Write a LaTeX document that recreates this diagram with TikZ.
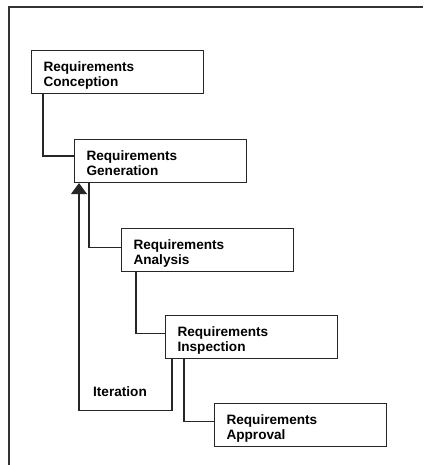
\documentclass[tikz,border=0pt]{standalone}
\usepackage{fontspec}
\setmainfont{Liberation Sans}
\usetikzlibrary{arrows.meta}
\begin{document}
\begin{tikzpicture}[x=1pt,y=-1pt,
  lbl/.style={font=\fontsize{13.6}{15}\selectfont\bfseries},
  stagebox/.style={draw=black!85,line width=1.1pt,rectangle,anchor=north west,
    minimum width=172pt,minimum height=43pt,inner xsep=12pt,inner ysep=0pt,
    text width=148pt,align=left,text height=15.5pt,text depth=17.5pt,lbl},
  link/.style={draw=black!85,line width=1.1pt},
  frame/.style={draw=black!80,line width=1.1pt}]
\useasboundingbox (0,0) rectangle (423,465);
\coordinate (fa) at (9,465);
\coordinate (fb) at (9,7);
\coordinate (fc) at (423,7);
\draw[frame] (fa) -- (fb) -- (fc);
\node[stagebox] (conc) at (31,50) {Requirements\\Conception};
\node[stagebox] (gen) at (74,139) {Requirements\\Generation};
\node[stagebox] (ana) at (121,228) {Requirements\\Analysis};
\node[stagebox] (insp) at (165,315) {Requirements\\Inspection};
\node[stagebox] (appr) at (214,403) {Requirements\\Approval};
\draw[link] ([xshift=12pt]conc.south west) |- ([yshift=5pt]gen.west);
\draw[link] ([xshift=15pt]gen.south west) |- ([yshift=2.5pt]ana.west);
\draw[link] ([xshift=15pt]ana.south west) |- ([yshift=3.5pt]insp.west);
\draw[link] ([xshift=19pt]insp.south west) |- ([yshift=3.5pt]appr.west);
\draw[link,-{Triangle[width=16pt,length=11pt]}] ([xshift=7pt]insp.south west) -- ++(0,51) -| ([xshift=5pt]gen.south west);
\node[lbl,inner sep=0pt] (iter) at (120,392) {Iteration};
\end{tikzpicture}
\end{document}
